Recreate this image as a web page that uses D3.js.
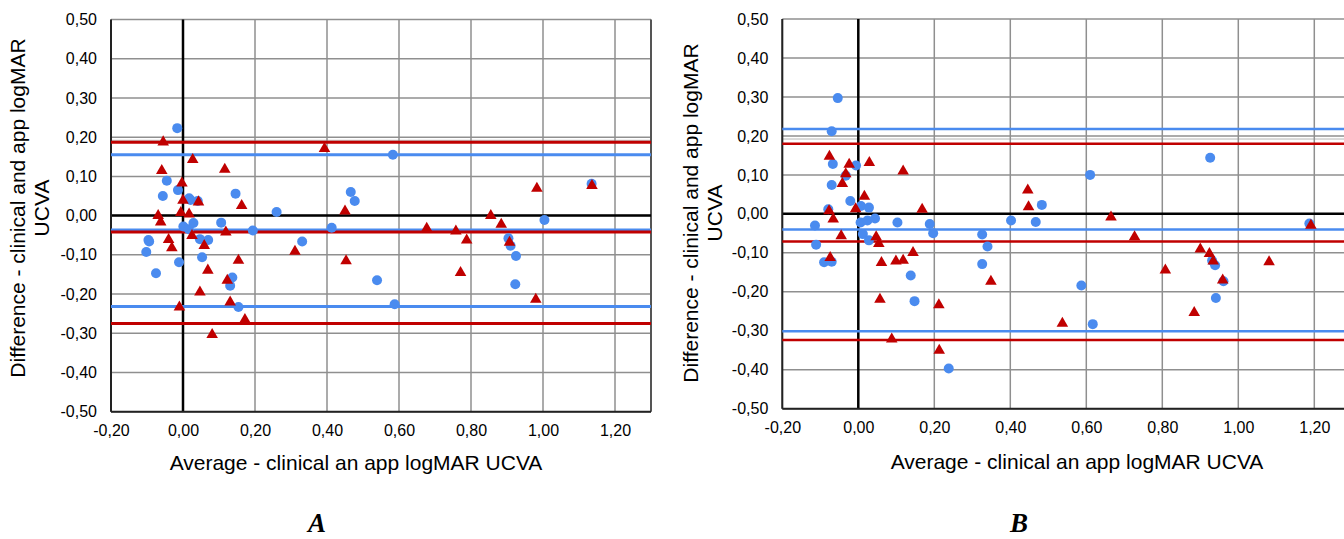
<!DOCTYPE html>
<html>
<head>
<meta charset="utf-8">
<script src="https://cdn.jsdelivr.net/npm/d3@7"></script>
<style>
  html, body { margin: 0; padding: 0; background: #fff; overflow: hidden; }
  svg { display: block; }
</style>
</head>
<body>
<div id="chart"></div>
<script>
// Tick values for both panels
const xTicks = [-0.2, 0, 0.2, 0.4, 0.6, 0.8, 1.0, 1.2];
const yTicks = [-0.5, -0.4, -0.3, -0.2, -0.1, 0, 0.1, 0.2, 0.3, 0.4, 0.5];

// Panel A: [average, difference]
const blueA = [[-0.016,0.223],[-0.045,0.089],[-0.056,0.050],[-0.014,0.065],[0.017,0.044],[0.021,0.040],
  [0.041,0.037],[0.146,0.056],[0.260,0.009],[0.001,-0.028],[0.016,-0.035],[0.029,-0.019],[0.106,-0.018],
  [0.194,-0.038],[0.413,-0.031],[-0.096,-0.062],[-0.094,-0.066],[0.047,-0.060],[0.070,-0.062],[0.331,-0.066],
  [-0.102,-0.093],[0.053,-0.106],[-0.011,-0.119],[-0.075,-0.147],[0.137,-0.158],[0.131,-0.179],[0.154,-0.233],
  [0.583,0.155],[0.466,0.060],[0.477,0.037],[1.004,-0.011],[1.135,0.081],[0.904,-0.058],[0.910,-0.077],
  [0.925,-0.103],[0.923,-0.175],[0.539,-0.165],[0.588,-0.226]];
const redA = [[-0.055,0.185],[0.393,0.168],[0.027,0.140],[-0.059,0.112],[0.116,0.115],[-0.003,0.080],
  [0.000,0.036],[0.043,0.032],[0.163,0.023],[-0.006,0.005],[0.017,0.001],[-0.069,-0.003],[-0.062,-0.019],
  [0.119,-0.045],[0.025,-0.054],[-0.040,-0.064],[-0.031,-0.085],[0.059,-0.079],[0.311,-0.094],[0.154,-0.117],
  [0.069,-0.142],[0.123,-0.168],[0.047,-0.198],[0.131,-0.223],[-0.010,-0.236],[0.172,-0.268],[0.081,-0.306],
  [0.450,0.009],[0.983,0.067],[1.136,0.074],[0.677,-0.035],[0.758,-0.042],[0.788,-0.065],[0.855,-0.003],
  [0.884,-0.025],[0.907,-0.071],[0.453,-0.118],[0.771,-0.148],[0.980,-0.216]];
// upper limit, mean, lower limit
const blueLinesA = [0.155, -0.037, -0.232];
const redLinesA = [0.187, -0.042, -0.275];

// Panel B
const blueB = [[-0.054,0.297],[-0.070,0.212],[-0.067,0.128],[-0.006,0.124],[-0.033,0.098],[-0.070,0.074],
  [-0.021,0.033],[0.007,0.020],[0.028,0.016],[-0.079,0.012],[0.006,-0.022],[0.024,-0.017],[0.044,-0.012],
  [0.103,-0.022],[0.188,-0.026],[0.197,-0.050],[0.402,-0.017],[-0.114,-0.030],[0.012,-0.052],[0.028,-0.068],
  [-0.111,-0.079],[0.326,-0.053],[0.340,-0.084],[-0.090,-0.124],[-0.070,-0.123],[0.326,-0.129],[0.138,-0.158],
  [0.148,-0.224],[0.238,-0.397],[0.926,0.144],[0.610,0.100],[0.483,0.023],[0.467,-0.021],[1.187,-0.025],
  [0.931,-0.120],[0.939,-0.132],[0.961,-0.173],[0.941,-0.216],[0.587,-0.184],[0.617,-0.283]];
const redB = [[-0.076,0.145],[-0.024,0.124],[0.029,0.129],[-0.033,0.100],[-0.042,0.075],[0.118,0.107],
  [0.016,0.042],[-0.007,0.010],[-0.077,0.005],[-0.066,-0.016],[0.168,0.009],[-0.045,-0.059],[0.047,-0.062],
  [0.054,-0.079],[-0.074,-0.115],[0.061,-0.128],[0.099,-0.124],[0.118,-0.122],[0.144,-0.102],[0.057,-0.222],
  [0.212,-0.236],[0.088,-0.324],[0.213,-0.353],[0.349,-0.176],[0.446,0.058],[0.448,0.015],[0.665,-0.011],
  [0.727,-0.062],[0.900,-0.093],[0.924,-0.105],[0.934,-0.124],[0.959,-0.173],[1.081,-0.126],[0.808,-0.147],
  [0.884,-0.256],[0.537,-0.284],[1.191,-0.032]];
const blueLinesB = [0.218, -0.040, -0.301];
const redLinesB = [0.180, -0.071, -0.324];

const yTitle = ["Difference - clinical and app logMAR", "UCVA"];
const xTitle = "Average - clinical an app logMAR UCVA";

const BLUE = "#4a8bef";
const RED = "#c00000";
const SANS = "'Liberation Sans', Arial, sans-serif";

const fmt = d3.formatLocale({ decimal: ",", thousands: ".", grouping: [3], currency: ["", ""], minus: "-" }).format(".2f");

const svg = d3.select("#chart").append("svg")
    .attr("width", 1344)
    .attr("height", 539);

// draw one Bland-Altman panel
function drawPanel(p) {
    const x = d3.scaleLinear().domain([-0.2, 1.3]).range([p.left, p.right]);
    const y = d3.scaleLinear().domain([-0.5, 0.5]).range([p.bottom, p.top]);
    const g = svg.append("g");

    // gridlines
    g.selectAll(".hgrid").data(yTicks).enter().append("line")
        .attr("x1", x(-0.2)).attr("x2", x(1.3))
        .attr("y1", d => y(d)).attr("y2", d => y(d))
        .attr("stroke", "#8f8f8f").attr("stroke-width", 1.5);
    g.append("line")
        .attr("x1", x(-0.2)).attr("x2", x(1.3))
        .attr("y1", y(0.192)).attr("y2", y(0.192))
        .attr("stroke", "#b5b5b5").attr("stroke-width", 1);
    g.selectAll(".vgrid").data(xTicks.concat([1.3])).enter().append("line")
        .attr("x1", d => x(d)).attr("x2", d => x(d))
        .attr("y1", y(0.5)).attr("y2", y(-0.5))
        .attr("stroke", d => d === 1.3 ? "#555" : "#8f8f8f")
        .attr("stroke-width", d => d === 1.3 ? 2 : 1.5);

    // zero lines
    g.append("line").attr("x1", x(-0.2)).attr("x2", x(1.3)).attr("y1", y(0)).attr("y2", y(0))
        .attr("stroke", "#000").attr("stroke-width", 2.5);
    g.append("line").attr("x1", x(0)).attr("x2", x(0)).attr("y1", y(0.5)).attr("y2", y(-0.5))
        .attr("stroke", "#000").attr("stroke-width", 2.5);

    // left and bottom border
    g.append("line").attr("x1", x(-0.2)).attr("x2", x(-0.2)).attr("y1", y(0.5)).attr("y2", y(-0.5))
        .attr("stroke", "#222").attr("stroke-width", 2);
    g.append("line").attr("x1", x(-0.2)).attr("x2", x(1.3)).attr("y1", y(-0.5)).attr("y2", y(-0.5))
        .attr("stroke", "#222").attr("stroke-width", 2);

    // limits of agreement and mean difference
    [[p.blueLines, BLUE], [p.redLines, RED]].forEach(([vals, col]) => {
        g.selectAll(null).data(vals).enter().append("line")
            .attr("x1", x(-0.2)).attr("x2", x(1.3))
            .attr("y1", d => y(d)).attr("y2", d => y(d))
            .attr("stroke", col).attr("stroke-width", p.lineW);
    });

    // points
    g.selectAll(".dot").data(p.blue).enter().append("circle")
        .attr("cx", d => x(d[0])).attr("cy", d => y(d[1]))
        .attr("r", 5).attr("fill", BLUE);
    g.selectAll(".tri").data(p.red).enter().append("path")
        .attr("d", d3.symbol().type(d3.symbolTriangle).size(58))
        .attr("transform", d => "translate(" + x(d[0]) + "," + (y(d[1]) - 1) + ")")
        .attr("fill", RED);

    // axes (labels only)
    const ya = g.append("g").attr("transform", "translate(" + x(-0.2) + ",0)")
        .call(d3.axisLeft(y).tickValues(yTicks).tickSize(0).tickPadding(14).tickFormat(fmt));
    const xa = g.append("g").attr("transform", "translate(0," + y(-0.5) + ")")
        .call(d3.axisBottom(x).tickValues(xTicks).tickSize(0).tickPadding(13).tickFormat(fmt));
    [ya, xa].forEach(a => {
        a.select(".domain").remove();
        a.selectAll("text").style("font-family", SANS).style("font-size", "16px").attr("fill", "#000");
    });

    // axis titles
    const yt = g.append("text")
        .attr("transform", "translate(" + p.yTitleX + "," + p.yTitleY + ") rotate(-90)")
        .attr("text-anchor", "middle")
        .style("font-family", SANS).style("font-size", "21px");
    yt.selectAll("tspan").data(yTitle).enter().append("tspan")
        .attr("x", 0).attr("dy", (d, i) => i === 0 ? 0 : 24)
        .text(d => d);

    g.append("text")
        .attr("x", p.xTitleX).attr("y", p.xTitleY)
        .attr("text-anchor", "middle")
        .style("font-family", SANS).style("font-size", "21px")
        .text(xTitle);

    // panel letter
    g.append("text")
        .attr("x", p.labelX).attr("y", 532)
        .attr("text-anchor", "middle")
        .style("font-family", "'Liberation Serif', 'Times New Roman', serif")
        .style("font-size", "27px").style("font-weight", "bold").style("font-style", "italic")
        .text(p.label);
}

drawPanel({
    left: 111, right: 651, top: 19.5, bottom: 411.7,
    blue: blueA, red: redA, blueLines: blueLinesA, redLines: redLinesA, lineW: 3,
    yTitleX: 25, yTitleY: 208, xTitleX: 356, xTitleY: 470, labelX: 317, label: "A"
});
drawPanel({
    left: 782.3, right: 1352.3, top: 19, bottom: 408.7,
    blue: blueB, red: redB, blueLines: blueLinesB, redLines: redLinesB, lineW: 2.5,
    yTitleX: 698, yTitleY: 213, xTitleX: 1077, xTitleY: 469, labelX: 1019, label: "B"
});
</script>
</body>
</html>
